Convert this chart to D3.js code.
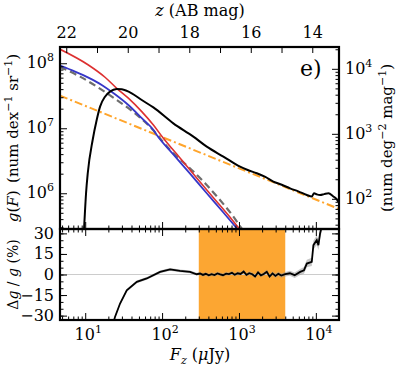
<!DOCTYPE html>
<html>
<head>
<meta charset="utf-8">
<script src="https://cdn.jsdelivr.net/npm/d3@7"></script>
<style>
  body { margin: 0; background: #fff; }
  svg text { font-family: "DejaVu Serif", serif; }
</style>
</head>
<body>
<div id="chart"></div>
<script>
// observed counts g(F), black
var obsFlux = [9.5, 9.75, 10.26, 10.8, 12.5, 14.1, 15.6, 18.1, 21.0, 25.7, 29.9, 40.3, 54.4, 77.0, 140, 255, 381, 627,
  1033, 1300, 1706, 2200, 2800, 3600, 4620, 5900, 7620, 8850, 9480, 10300, 11350, 12800, 14560, 16900, 18500, 19600];
var obsG = [2.0e5, 3.5e5, 1.01e6, 2.05e6, 6.6e6, 1.34e7, 2.15e7, 3.06e7, 3.66e7, 4.03e7, 3.98e7, 3.45e7, 2.72e7, 2.09e7, 1.19e7, 7.43e6, 5.21e6, 3.66e6,
  2.56e6, 2.28e6, 2.03e6, 1.78e6, 1.51e6, 1.35e6, 1.19e6, 1.07e6, 9.4e5, 8.9e5, 1.0e6, 9.6e5, 9.4e5, 9.7e5, 1.0e6, 8.9e5, 8.2e5, 7.4e5];

// model curves
var redFlux = [4.71, 11.0, 18.1, 25.7, 36.4, 54.4, 77.1, 104, 171, 282, 465, 766, 1000, 1396];
var redG = [1.64e8, 9.4e7, 6.09e7, 4.12e7, 2.9e7, 1.8e7, 1.12e7, 7.0e6, 3.49e6, 1.72e6, 8.55e5, 4.26e5, 2.88e5, 1.85e5];

var blueFlux = [4.71, 7.38, 11.0, 16.4, 24.4, 36.4, 54.4, 77.1, 85.3, 140, 231, 381, 627, 935, 1202];
var blueG = [9.18e7, 7.43e7, 6.0e7, 4.64e7, 3.33e7, 2.28e7, 1.43e7, 9.4e6, 7.9e6, 3.96e6, 2.0e6, 1.0e6, 5.05e5, 2.9e5, 2.05e5];

var dashFlux = [4.71, 8.57, 25.7, 41.9, 69.8, 127, 243, 362, 540, 846, 1096, 1313];
var dashG = [8.77e7, 6.22e7, 2.72e7, 1.8e7, 1.05e7, 4.64e6, 2.28e6, 1.43e6, 8.4e5, 4.37e5, 2.83e5, 2.2e5];

var orangeFlux = [4.7, 20000];
var orangeG = [3.18e7, 5.73e5];

// residuals (percent)
var ratioFlux = [23.7, 24.4, 28.4, 34.7, 46.9, 63.2, 94.2, 127, 171, 231, 282, 312,
  340, 370, 405, 440, 480, 525, 570, 620, 680, 740, 810, 880, 960, 1050, 1150, 1250, 1360, 1490,
  1620, 1770, 1930, 2100, 2300, 2500, 2730, 2980, 3250, 3550,
  3990, 4600, 5300, 6250, 7000, 7630, 8850, 9290, 10280, 10790, 11350, 12050];
var ratioVal = [-33.5, -31.0, -21.2, -11.5, -5.4, -2.9, 1.9, 3.7, 2.6, 1.9, 0.2, 0.7,
  -0.3, 0.5, -0.6, 0.2, -0.4, 0.8, 0.1, -0.5, 0.6, 0.3, 1.2, -0.2, 0.9, 0.4, 2.2, -0.3, 1.0, 0.2,
  -1.4, 1.5, -0.6, 0.3, 2.0, -1.5, 0.8, -1.0, 0.5, -0.8,
  0.2, 0.9, -0.5, 1.9, 3.0, 8.0, 9.2, 21.4, 25.1, 21.4, 30.0, 36.0];
var ratioErr = [1.0, 1.0, 1.0, 1.0, 1.0, 1.0, 1.0, 1.0, 1.0, 1.0, 1.0, 1.0,
  1.2, 1.2, 1.2, 1.2, 1.2, 1.2, 1.2, 1.2, 1.2, 1.2, 1.2, 1.2, 1.2, 1.2, 1.2, 1.2, 1.2, 1.2,
  1.3, 1.3, 1.3, 1.3, 1.4, 1.4, 1.4, 1.5, 1.5, 1.5,
  1.6, 1.8, 2.0, 2.2, 2.5, 2.8, 3.0, 3.2, 3.5, 3.5, 3.8, 4.0];

// fitting range (orange band)
var bandRange = [300, 4000];

// tick values
var magTicks = [22, 21, 20, 19, 18, 17, 16, 15, 14];
var magLabels = [22, 20, 18, 16, 14];
var xMajor = [1, 2, 3, 4];
var leftMajor = [6, 7, 8];
var rightMajor = [2, 3, 4];
var ratioMajor = [-30, -15, 0, 15, 30];

var svgWidth = 399, svgHeight = 368;
var plot = { left: 60, right: 339, top: 47, mid: 229, bottom: 320 };
var perSrDex = 8207; // sr*dex -> deg^2*mag

var svg = d3.select("#chart").append("svg")
  .attr("width", svgWidth)
  .attr("height", svgHeight);

var x = d3.scaleLog().domain([4.7, 20000]).range([plot.left, plot.right]);
var yTop = d3.scaleLog().domain([Math.pow(10, 5.45), Math.pow(10, 8.25)]).range([plot.mid, plot.top]);
var yRight = d3.scaleLog().domain([Math.pow(10, 5.45) / perSrDex, Math.pow(10, 8.25) / perSrDex]).range([plot.mid, plot.top]);
var yRatio = d3.scaleLinear().domain([-33.2, 33.2]).range([plot.bottom, plot.mid]);

function magX(m) { return x(Math.pow(10, (23.9 - m) / 2.5)); }

// minor ticks for log scales
function logMinors(scale) {
  var d = scale.domain(), out = [];
  var lo = Math.floor(Math.log10(Math.min(d[0], d[1]))), hi = Math.ceil(Math.log10(Math.max(d[0], d[1])));
  for (var k = lo; k <= hi; k++) {
    for (var j = 2; j <= 9; j++) {
      var v = j * Math.pow(10, k);
      if (v > Math.min(d[0], d[1]) && v < Math.max(d[0], d[1])) out.push(v);
    }
  }
  return out;
}
var pows = function(arr) { return arr.map(function(e) { return Math.pow(10, e); }); };

// clip paths
var defs = svg.append("defs");
defs.append("clipPath").attr("id", "clipTop").append("rect")
  .attr("x", plot.left).attr("y", plot.top).attr("width", plot.right - plot.left).attr("height", plot.mid - plot.top);
defs.append("clipPath").attr("id", "clipBot").append("rect")
  .attr("x", plot.left).attr("y", plot.mid).attr("width", plot.right - plot.left).attr("height", plot.bottom - plot.mid);

var topGroup = svg.append("g").attr("clip-path", "url(#clipTop)");
var botGroup = svg.append("g").attr("clip-path", "url(#clipBot)");

// ---- top panel curves
function lineFor(xs, ys) {
  return d3.line().curve(d3.curveMonotoneX)(xs.map(function(f, i) { return [x(f), yTop(ys[i])]; }));
}

topGroup.append("path")
  .attr("d", lineFor(orangeFlux, orangeG))
  .attr("fill", "none").attr("stroke", "#ffa52c").attr("stroke-width", 2)
  .attr("stroke-dasharray", "8,3,2,3");

topGroup.append("path")
  .attr("d", lineFor(dashFlux, dashG))
  .attr("fill", "none").attr("stroke", "#6e6e6e").attr("stroke-width", 2.2)
  .attr("stroke-dasharray", "7,4");

topGroup.append("path")
  .attr("d", lineFor(blueFlux, blueG))
  .attr("fill", "none").attr("stroke", "#3636c8").attr("stroke-width", 1.8);

topGroup.append("path")
  .attr("d", lineFor(redFlux, redG))
  .attr("fill", "none").attr("stroke", "#dd3030").attr("stroke-width", 1.6);

topGroup.append("path")
  .attr("d", lineFor(obsFlux, obsG))
  .attr("fill", "none").attr("stroke", "#000").attr("stroke-width", 2);

// ---- bottom panel
botGroup.append("rect")
  .attr("x", x(bandRange[0])).attr("y", plot.mid)
  .attr("width", x(bandRange[1]) - x(bandRange[0])).attr("height", plot.bottom - plot.mid)
  .attr("fill", "#fca632");

botGroup.append("line")
  .attr("x1", plot.left).attr("x2", plot.right)
  .attr("y1", yRatio(0)).attr("y2", yRatio(0))
  .attr("stroke", "#cccccc").attr("stroke-width", 1.2);

var ratioPts = ratioFlux.map(function(f, i) { return { f: f, v: ratioVal[i], e: ratioErr[i] }; });

botGroup.append("path")
  .datum(ratioPts)
  .attr("d", d3.area()
    .x(function(d) { return x(d.f); })
    .y0(function(d) { return yRatio(d.v - d.e); })
    .y1(function(d) { return yRatio(d.v + d.e); }))
  .attr("fill", "#999").attr("opacity", 0.55);

botGroup.append("path")
  .datum(ratioPts)
  .attr("d", d3.line()
    .x(function(d) { return x(d.f); })
    .y(function(d) { return yRatio(d.v); }))
  .attr("fill", "none").attr("stroke", "#000").attr("stroke-width", 1.8);

// ---- ticks (inward)
function ticks(axisFn, scale, values, size, transform) {
  svg.append("g")
    .attr("transform", transform)
    .call(axisFn(scale).tickValues(values).tickSizeInner(-size).tickSizeOuter(0).tickFormat(""))
    .call(function(g) { g.select(".domain").remove(); g.selectAll("line").attr("stroke-width", 1); });
}

// top panel
ticks(d3.axisBottom, x, pows(xMajor), 7, "translate(0," + plot.mid + ")");
ticks(d3.axisBottom, x, logMinors(x), 3.5, "translate(0," + plot.mid + ")");
ticks(d3.axisLeft, yTop, pows(leftMajor), 7, "translate(" + plot.left + ",0)");
ticks(d3.axisLeft, yTop, logMinors(yTop), 3.5, "translate(" + plot.left + ",0)");
ticks(d3.axisRight, yRight, pows(rightMajor), 7, "translate(" + plot.right + ",0)");
ticks(d3.axisRight, yRight, logMinors(yRight), 3.5, "translate(" + plot.right + ",0)");

svg.append("g").selectAll("line")
  .data(magTicks)
  .enter().append("line")
  .attr("x1", magX).attr("x2", magX)
  .attr("y1", plot.top).attr("y2", plot.top + 6)
  .attr("stroke", "#000").attr("stroke-width", 1);

// bottom panel
ticks(d3.axisTop, x, pows(xMajor), 7, "translate(0," + plot.mid + ")");
ticks(d3.axisTop, x, logMinors(x), 3.5, "translate(0," + plot.mid + ")");
ticks(d3.axisBottom, x, pows(xMajor), 7, "translate(0," + plot.bottom + ")");
ticks(d3.axisBottom, x, logMinors(x), 3.5, "translate(0," + plot.bottom + ")");
ticks(d3.axisLeft, yRatio, ratioMajor, 7, "translate(" + plot.left + ",0)");
ticks(d3.axisLeft, yRatio, d3.range(-30, 31, 5), 3.5, "translate(" + plot.left + ",0)");
ticks(d3.axisRight, yRatio, ratioMajor, 7, "translate(" + plot.right + ",0)");
ticks(d3.axisRight, yRatio, d3.range(-30, 31, 5), 3.5, "translate(" + plot.right + ",0)");

// frames
svg.append("rect")
  .attr("x", plot.left).attr("y", plot.top)
  .attr("width", plot.right - plot.left).attr("height", plot.mid - plot.top)
  .attr("fill", "none").attr("stroke", "#000").attr("stroke-width", 2.2);
svg.append("rect")
  .attr("x", plot.left).attr("y", plot.mid)
  .attr("width", plot.right - plot.left).attr("height", plot.bottom - plot.mid)
  .attr("fill", "none").attr("stroke", "#000").attr("stroke-width", 2.2);

// ---- tick labels
function powText(g, px, py, anchor, exp) {
  var t = g.append("text").attr("x", px).attr("y", py).attr("text-anchor", anchor).attr("font-size", "16px");
  t.append("tspan").text("10");
  t.append("tspan").attr("dy", -7).attr("font-size", "11px").text(exp);
  return t;
}

var labels = svg.append("g");
xMajor.forEach(function(e) { powText(labels, x(Math.pow(10, e)) + 3, 340, "middle", e); });
leftMajor.forEach(function(e) { powText(labels, plot.left - 6, yTop(Math.pow(10, e)) + 5, "end", e); });
rightMajor.forEach(function(e) { powText(labels, plot.right + 6, yRight(Math.pow(10, e)) + 5, "start", e); });

labels.selectAll(".mag")
  .data(magLabels)
  .enter().append("text")
  .attr("x", magX).attr("y", 38)
  .attr("text-anchor", "middle").attr("font-size", "16px")
  .text(function(d) { return d; });

labels.selectAll(".ratio")
  .data(ratioMajor)
  .enter().append("text")
  .attr("x", plot.left - 6).attr("y", function(d) { return yRatio(d) + 5.5; })
  .attr("text-anchor", "end").attr("font-size", "16px")
  .text(function(d) { return d < 0 ? "\u2212" + Math.abs(d) : d; });

// ---- axis titles
var titles = svg.append("g");

var zt = titles.append("text").attr("x", 200).attr("y", 16).attr("text-anchor", "middle").attr("font-size", "16px");
zt.append("tspan").attr("font-style", "italic").text("z");
zt.append("tspan").text(" (AB mag)");

var ft = titles.append("text").attr("x", 200).attr("y", 360).attr("text-anchor", "middle").attr("font-size", "16px");
ft.append("tspan").attr("font-style", "italic").text("F");
ft.append("tspan").attr("font-style", "italic").attr("font-size", "11px").attr("dy", 4).text("z");
ft.append("tspan").attr("dy", -4).text(" (");
ft.append("tspan").attr("font-style", "italic").text("\u03bc");
ft.append("tspan").text("Jy)");

var gt = titles.append("text").attr("transform", "translate(18," + ((plot.top + plot.mid) / 2) + ") rotate(-90)")
  .attr("text-anchor", "middle").attr("font-size", "15px");
gt.append("tspan").attr("font-style", "italic").text("g");
gt.append("tspan").text("(");
gt.append("tspan").attr("font-style", "italic").text("F");
gt.append("tspan").text(")\u2002(num dex");
gt.append("tspan").attr("dy", -6).attr("font-size", "11px").text("\u22121");
gt.append("tspan").attr("dy", 6).text(" sr");
gt.append("tspan").attr("dy", -6).attr("font-size", "11px").text("\u22121");
gt.append("tspan").attr("dy", 6).text(")");

var rt = titles.append("text").attr("transform", "translate(392," + ((plot.top + plot.mid) / 2) + ") rotate(-90)")
  .attr("text-anchor", "middle").attr("font-size", "15px");
rt.append("tspan").text("(num deg");
rt.append("tspan").attr("dy", -6).attr("font-size", "11px").text("\u22122");
rt.append("tspan").attr("dy", 6).text(" mag");
rt.append("tspan").attr("dy", -6).attr("font-size", "11px").text("\u22121");
rt.append("tspan").attr("dy", 6).text(")");

var dt = titles.append("text").attr("transform", "translate(18," + ((plot.mid + plot.bottom) / 2) + ") rotate(-90)")
  .attr("text-anchor", "middle").attr("font-size", "14px");
dt.append("tspan").text("\u0394");
dt.append("tspan").attr("font-style", "italic").text("g");
dt.append("tspan").text(" / ");
dt.append("tspan").attr("font-style", "italic").text("g");
dt.append("tspan").text(" (%)");

// panel tag
titles.append("text").attr("x", 300).attr("y", 76)
  .attr("font-size", "22px").text("e)");
</script>
</body>
</html>
